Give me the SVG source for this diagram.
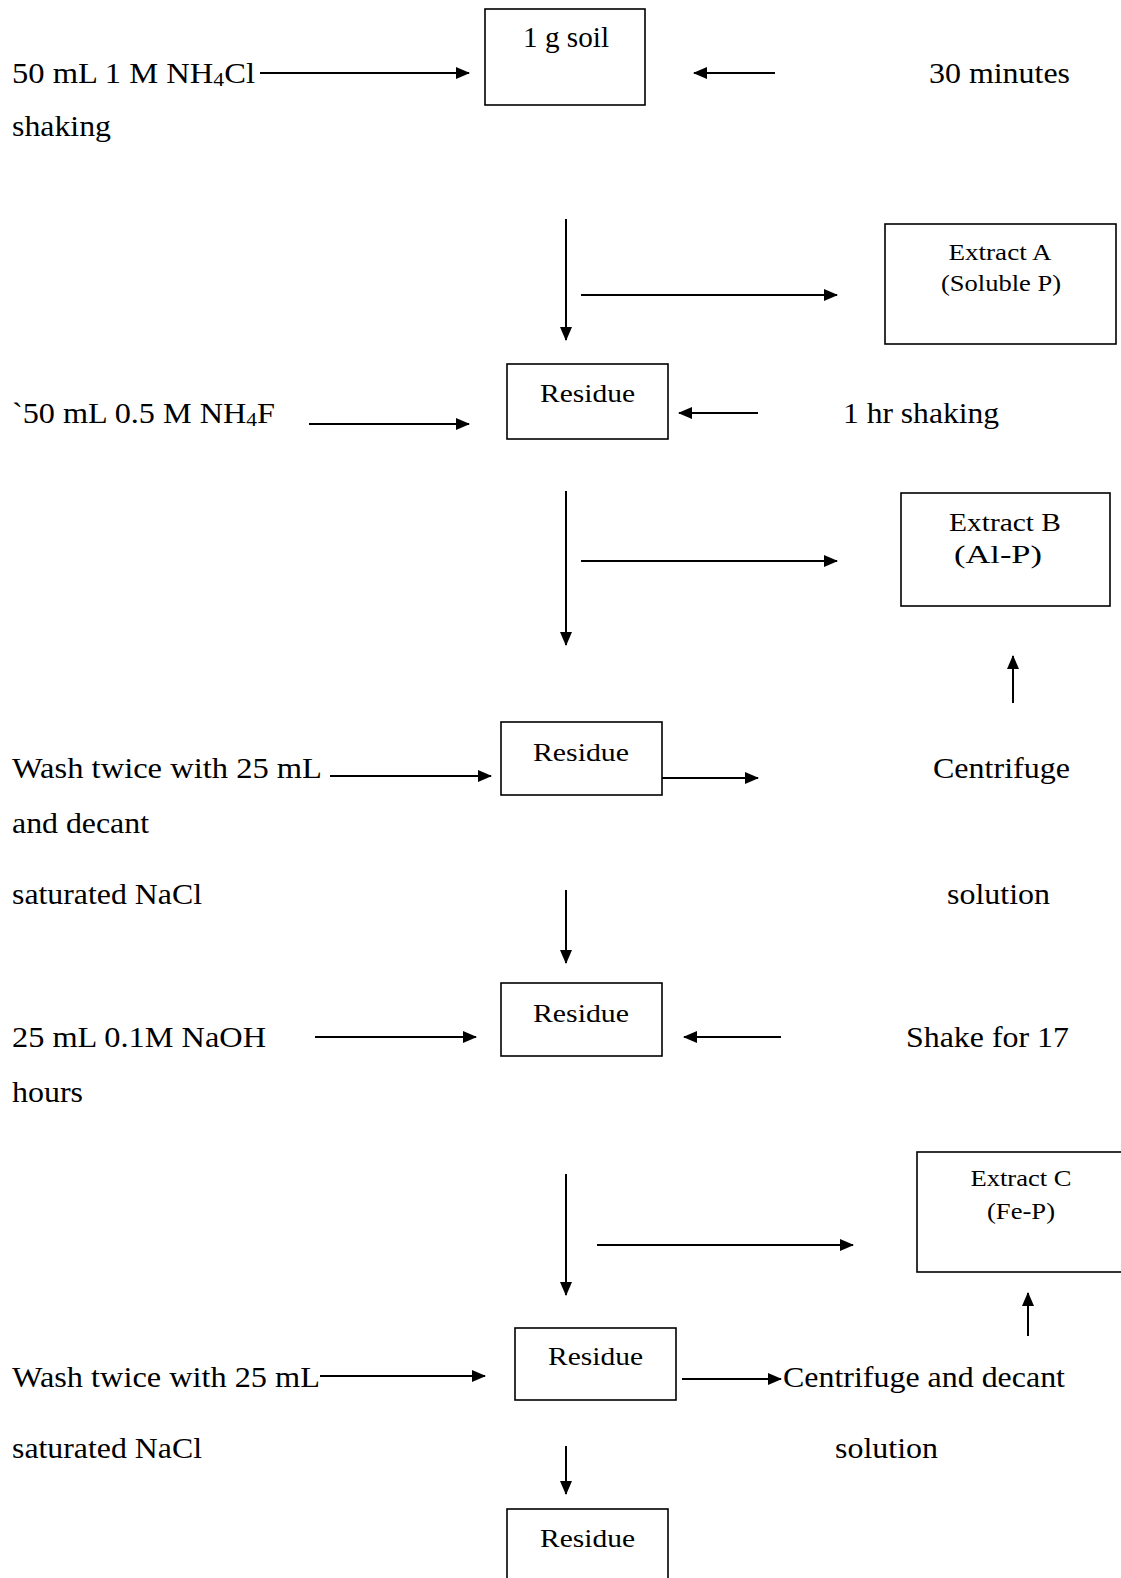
<svg xmlns="http://www.w3.org/2000/svg" width="1121" height="1578" viewBox="0 0 1121 1578" font-family="'Liberation Serif', 'Times New Roman', serif">
<style>
text{font-family:"Liberation Serif","Times New Roman",serif;fill:#000;}
.m{font-size:28.5px;}
.b{font-size:26px;}
.s{font-size:23.5px;}
.box{fill:#fff;stroke:#000;stroke-width:1.6;}
.c line{stroke:#000;stroke-width:2;marker-end:url(#ah);}
</style>
<defs>
<marker id="ah" markerUnits="userSpaceOnUse" markerWidth="14" markerHeight="12" refX="13" refY="6" orient="auto" viewBox="0 0 14 12">
<path d="M0,0 L14,6 L0,12 z" fill="#000"/>
</marker>
</defs>
<rect width="1121" height="1578" fill="#fff"/>

<g id="soil"><rect class="box" x="485" y="9" width="160" height="96"/><text class="m" x="566" y="47" text-anchor="middle" textLength="86" lengthAdjust="spacingAndGlyphs">1 g soil</text></g>
<g id="residue1"><rect class="box" x="507" y="364" width="161" height="75"/><text class="b" x="587.5" y="402" text-anchor="middle" textLength="95" lengthAdjust="spacingAndGlyphs">Residue</text></g>
<g id="extractA"><rect class="box" x="885" y="224" width="231" height="120"/><text class="s" x="1000" y="260" text-anchor="middle" textLength="103" lengthAdjust="spacingAndGlyphs">Extract A</text><text class="s" x="1001" y="291" text-anchor="middle" textLength="120" lengthAdjust="spacingAndGlyphs">(Soluble P)</text></g>
<g id="extractB"><rect class="box" x="901" y="493" width="209" height="113"/><text class="b" x="1005" y="531" text-anchor="middle" textLength="112" lengthAdjust="spacingAndGlyphs">Extract B</text><text class="b" x="998" y="563" text-anchor="middle" textLength="88" lengthAdjust="spacingAndGlyphs">(Al-P)</text></g>
<g id="residue2"><rect class="box" x="501" y="722" width="161" height="73"/><text class="b" x="581" y="761" text-anchor="middle" textLength="96" lengthAdjust="spacingAndGlyphs">Residue</text></g>
<g id="residue3"><rect class="box" x="501" y="983" width="161" height="73"/><text class="b" x="581" y="1022" text-anchor="middle" textLength="96" lengthAdjust="spacingAndGlyphs">Residue</text></g>
<g id="extractC"><rect class="box" x="917" y="1152" width="206" height="120"/><text class="s" x="1021" y="1186" text-anchor="middle" textLength="101" lengthAdjust="spacingAndGlyphs">Extract C</text><text class="s" x="1021" y="1219" text-anchor="middle" textLength="68" lengthAdjust="spacingAndGlyphs">(Fe-P)</text></g>
<g id="residue4"><rect class="box" x="515" y="1328" width="161" height="72"/><text class="b" x="595.5" y="1365" text-anchor="middle" textLength="95" lengthAdjust="spacingAndGlyphs">Residue</text></g>
<g id="residue5"><rect class="box" x="507" y="1509" width="161" height="80"/><text class="b" x="587.5" y="1547" text-anchor="middle" textLength="95" lengthAdjust="spacingAndGlyphs">Residue</text></g>

<g id="labels">
<text class="m" x="12" y="83" textLength="243" lengthAdjust="spacingAndGlyphs">50 mL 1 M NH<tspan font-size="19" dy="3">4</tspan><tspan dy="-3">Cl</tspan></text>
<text class="m" x="12" y="136" textLength="99" lengthAdjust="spacingAndGlyphs">shaking</text>
<text class="m" x="929" y="83" textLength="141" lengthAdjust="spacingAndGlyphs">30 minutes</text>
<text class="m" x="12" y="423" textLength="263" lengthAdjust="spacingAndGlyphs">`50 mL 0.5 M NH<tspan font-size="19" dy="3">4</tspan><tspan dy="-3">F</tspan></text>
<text class="m" x="843" y="423" textLength="156" lengthAdjust="spacingAndGlyphs">1 hr shaking</text>
<text class="m" x="12" y="778" textLength="310" lengthAdjust="spacingAndGlyphs">Wash twice with 25 mL</text>
<text class="m" x="12" y="833" textLength="137" lengthAdjust="spacingAndGlyphs">and decant</text>
<text class="m" x="12" y="904" textLength="190" lengthAdjust="spacingAndGlyphs">saturated NaCl</text>
<text class="m" x="933" y="778" textLength="137" lengthAdjust="spacingAndGlyphs">Centrifuge</text>
<text class="m" x="947" y="904" textLength="103" lengthAdjust="spacingAndGlyphs">solution</text>
<text class="m" x="12" y="1047" textLength="254" lengthAdjust="spacingAndGlyphs">25 mL 0.1M NaOH</text>
<text class="m" x="906" y="1047" textLength="163" lengthAdjust="spacingAndGlyphs">Shake for 17</text>
<text class="m" x="12" y="1102" textLength="71" lengthAdjust="spacingAndGlyphs">hours</text>
<text class="m" x="12" y="1387" textLength="308" lengthAdjust="spacingAndGlyphs">Wash twice with 25 mL</text>
<text class="m" x="783" y="1387" textLength="282" lengthAdjust="spacingAndGlyphs">Centrifuge and decant</text>
<text class="m" x="12" y="1458" textLength="190" lengthAdjust="spacingAndGlyphs">saturated NaCl</text>
<text class="m" x="835" y="1458" textLength="103" lengthAdjust="spacingAndGlyphs">solution</text>
</g>

<g id="connectors" class="c">
<line x1="260" y1="73" x2="469" y2="73"/>
<line x1="775" y1="73" x2="694" y2="73"/>
<line x1="566" y1="219" x2="566" y2="340"/>
<line x1="581" y1="295" x2="837" y2="295"/>
<line x1="309" y1="424" x2="469" y2="424"/>
<line x1="758" y1="413" x2="679" y2="413"/>
<line x1="566" y1="491" x2="566" y2="645"/>
<line x1="581" y1="561" x2="837" y2="561"/>
<line x1="1013" y1="703" x2="1013" y2="656"/>
<line x1="330" y1="776" x2="491" y2="776"/>
<line x1="662" y1="778" x2="758" y2="778"/>
<line x1="566" y1="890" x2="566" y2="963"/>
<line x1="315" y1="1037" x2="476" y2="1037"/>
<line x1="781" y1="1037" x2="684" y2="1037"/>
<line x1="566" y1="1174" x2="566" y2="1295"/>
<line x1="597" y1="1245" x2="853" y2="1245"/>
<line x1="1028" y1="1336" x2="1028" y2="1293"/>
<line x1="320" y1="1376" x2="485" y2="1376"/>
<line x1="682" y1="1379" x2="781" y2="1379"/>
<line x1="566" y1="1446" x2="566" y2="1494"/>
</g>
</svg>
